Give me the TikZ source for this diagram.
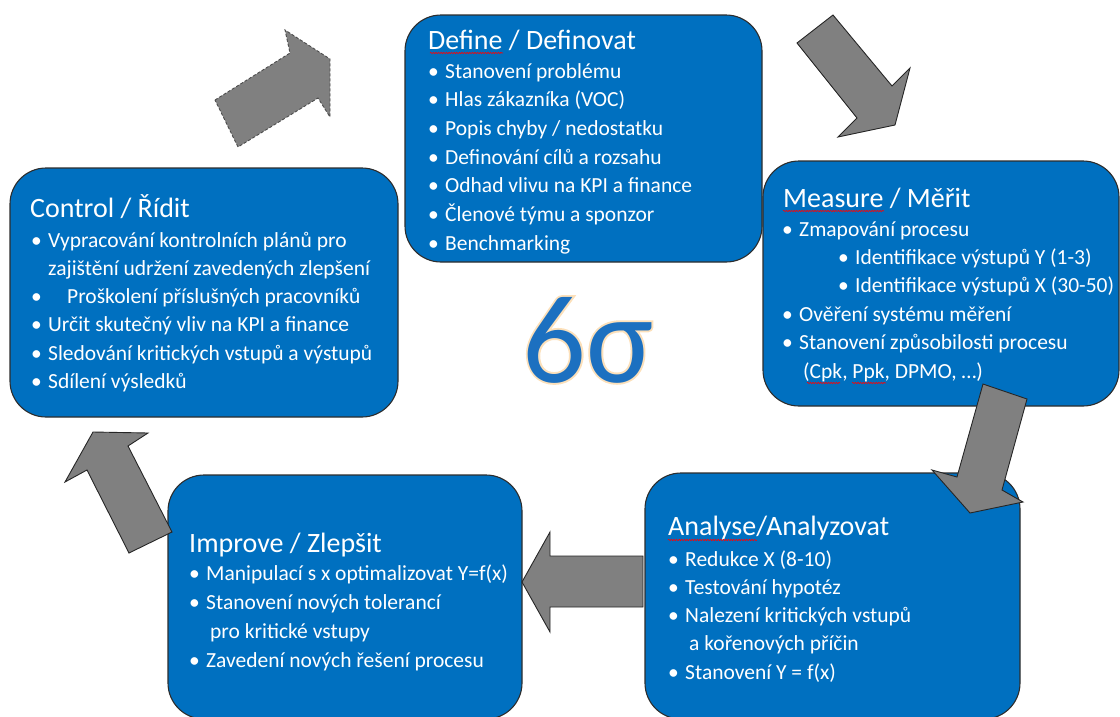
\documentclass[tikz,border=0pt]{standalone}
\usepackage{fontspec}
\setmainfont{Carlito}
\newfontfamily\haloface[FakeBold=3]{Carlito}
\usetikzlibrary{decorations.pathmorphing}

\definecolor{phaseblue}{RGB}{0,112,192}
\definecolor{boxline}{RGB}{45,45,45}
\definecolor{arrowgray}{RGB}{128,128,128}
\definecolor{sixblue}{RGB}{28,112,192}
\definecolor{glow}{RGB}{252,224,186}

\newcommand{\bul}{\strut\makebox[12pt][l]{\hspace*{-5pt}\textbullet}}
\newcommand{\contline}[1][16pt]{\strut\hspace*{#1}}

\tikzset{
    phase/.style={draw=boxline, fill=phaseblue, line width=1.1pt, rounded corners=36pt, inner sep=0pt},
    head/.style={anchor=base west, text=white, inner sep=0pt, font=\fontsize{28}{34}\selectfont},
    items/.style={anchor=north west, text=white, inner sep=0pt, align=left, font=\fontsize{21.5}{#1}\selectfont},
    blockarrow/.style={fill=arrowgray, draw=black!85, line width=0.9pt, line join=miter},
    sigma/.style={anchor=base west, inner sep=0pt, font=\fontsize{126}{126}\selectfont},
    spell/.style={draw=red, line width=0.6pt, decorate, decoration={snake, amplitude=0.7pt, segment length=2.6pt}}
}

\begin{document}
\begin{tikzpicture}[x=1pt, y=-1pt]
    \useasboundingbox (0,0) rectangle (1120,716);
    \clip (0,0) rectangle (1120,716);

    % the five phases
    \node[phase, minimum width=357pt, minimum height=247pt] (define) at (583.5,138.5) {};
    \node[phase, minimum width=356pt, minimum height=245pt] (measure) at (941,283.5) {};
    \node[phase, minimum width=375pt, minimum height=246pt] (analyse) at (832.5,596) {};
    \node[phase, minimum width=354pt, minimum height=244pt] (improve) at (345,597) {};
    \node[phase, minimum width=388pt, minimum height=249pt] (control) at (204,292.5) {};

    \node[head] (define-title) at (428,49) {Define / Definovat};
    \node[items=28.67] (define-list) at (433,57.9) {\bul Stanovení problému\\
        \bul Hlas zákazníka (VOC)\\
        \bul Popis chyby / nedostatku\\
        \bul Definování cílů a rozsahu\\
        \bul Odhad vlivu na KPI a finance\\
        \bul Členové týmu a sponzor\\
        \bul Benchmarking};

    \node[head] (measure-title) at (783,207) {Measure / Měřit};
    \node[items=28.4] (measure-list) at (787,216.1) {\bul Zmapování procesu\\
        \contline[56pt]\bul Identifikace výstupů Y (1-3)\\
        \contline[56pt]\bul Identifikace výstupů X (30-50)\\
        \bul Ověření systému měření\\
        \bul Stanovení způsobilosti procesu\\
        \contline (Cpk, Ppk, DPMO, …)};

    \node[head] (analyse-title) at (668,535) {Analyse/Analyzovat};
    \node[items=28.25] (analyse-list) at (673,546.2) {\bul Redukce X (8-10)\\
        \bul Testování hypotéz\\
        \bul Nalezení kritických vstupů\\
        \contline a kořenových příčin\\
        \bul Stanovení Y = f(x)};

    \node[head] (improve-title) at (189,552) {Improve / Zlepšit};
    \node[items=29] (improve-list) at (194,559.7) {\bul Manipulací s x optimalizovat Y=f(x)\\
        \bul Stanovení nových tolerancí\\
        \contline pro kritické vstupy\\
        \bul Zavedení nových řešení procesu};

    \node[head] (control-title) at (30,217) {Control / Řídit};
    \node[items=28.2] (control-list) at (36,227.3) {\bul Vypracování kontrolních plánů pro\\
        \contline[12pt]zajištění udržení zavedených zlepšení\\
        \bul\hspace*{19pt}Proškolení příslušných pracovníků\\
        \bul Určit skutečný vliv na KPI a finance\\
        \bul Sledování kritických vstupů a výstupů\\
        \bul Sdílení výsledků};

    % spell-check marks
    \draw[spell] (430,53) -- (503,53);
    \draw[spell] (783,211) -- (884,211);
    \draw[spell] (807,383) -- (840,383);
    \draw[spell] (852,383) -- (886,383);
    \draw[spell] (668,540) -- (757,540);

    % block arrows round the cycle
    \draw[blockarrow, draw=black!70, dash pattern=on 3pt off 2pt] (215,100) -- (290,53) -- (285,30) -- (330,59) -- (330,117) -- (318,98) -- (238,147) -- cycle;
    \draw[blockarrow] (797,43) -- (833,15) -- (892,86) -- (910,68) -- (895,125) -- (838,137) -- (857,118) -- cycle;
    \draw[blockarrow] (983,384) -- (1027,399) -- (1002,490) -- (1023,502) -- (970,513) -- (932,470) -- (957,477) -- cycle;
    \draw[blockarrow] (522,582) -- (550,532) -- (550,556) -- (643,556) -- (643,607) -- (550,607) -- (550,632) -- cycle;
    \draw[blockarrow] (93,432) -- (148,433) -- (128,446) -- (172,532) -- (129,553) -- (87,470) -- (65,482) -- cycle;

    % 6 sigma, a fat light copy underneath gives the halo
    \node[sigma, text=glow, font=\haloface\fontsize{126}{126}\selectfont] (halo) at (522,382) {6σ};
    \node[sigma, text=sixblue] (six) at (522,382) {6σ};
\end{tikzpicture}
\end{document}
